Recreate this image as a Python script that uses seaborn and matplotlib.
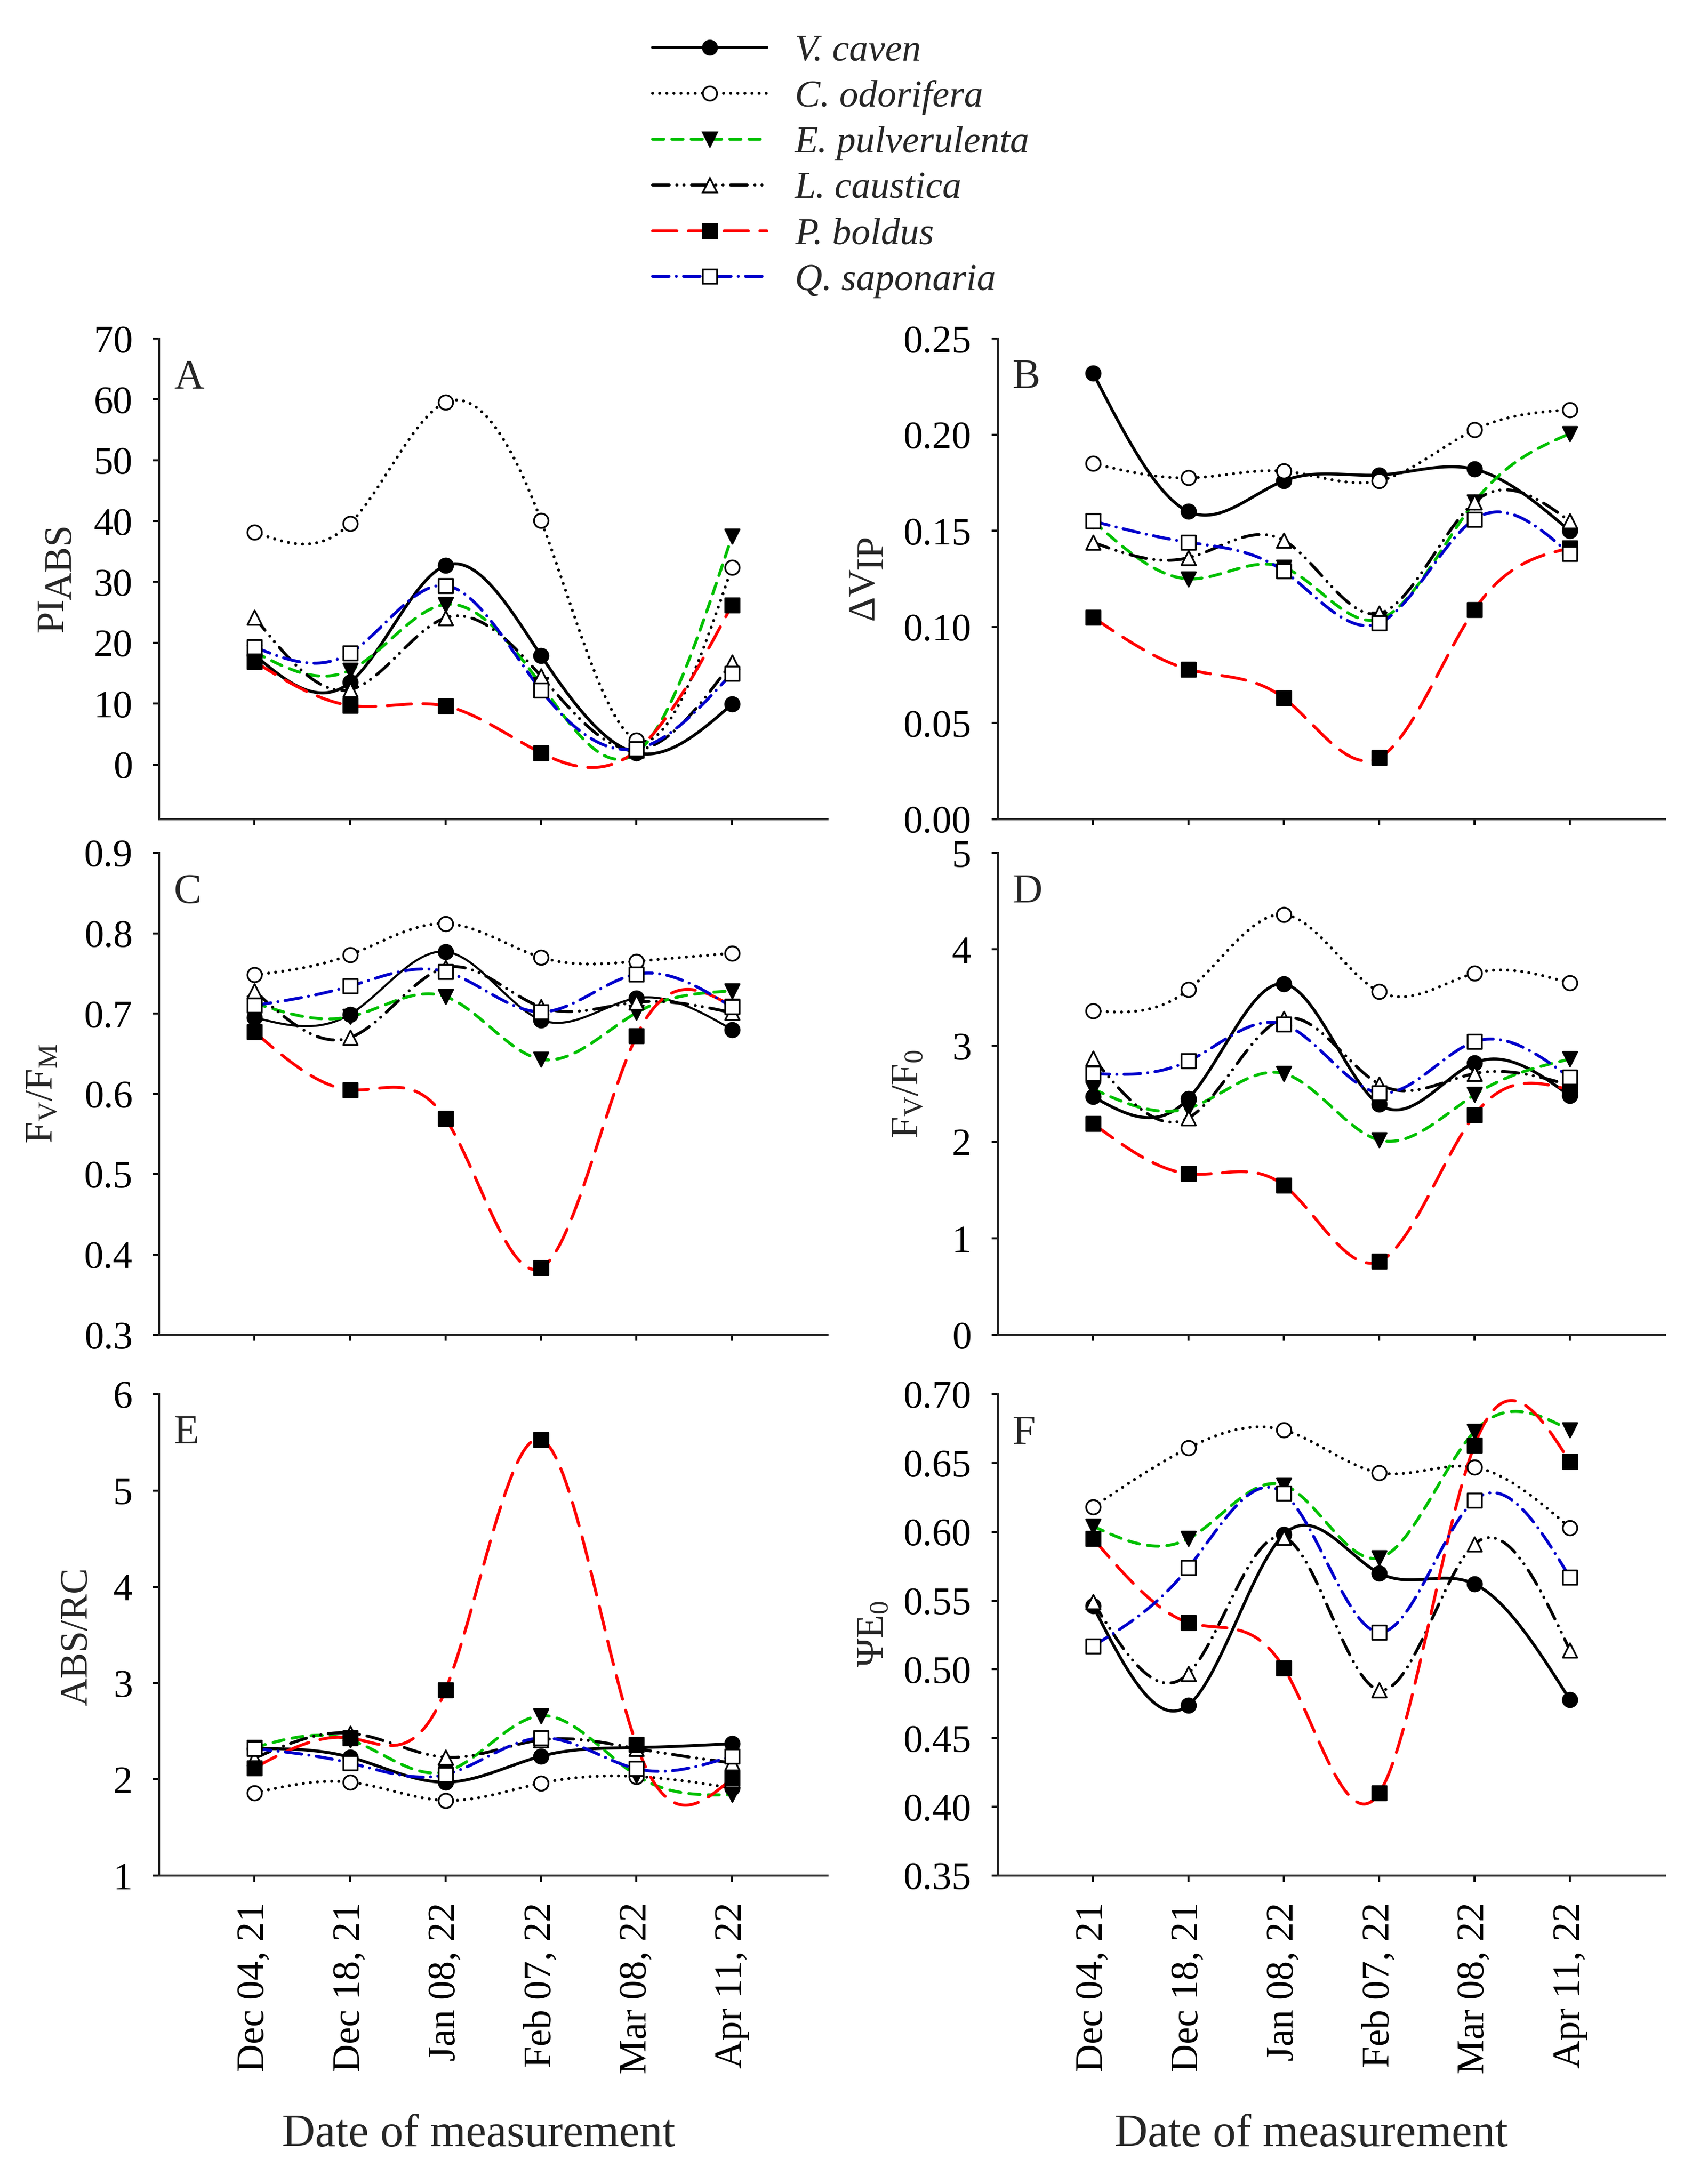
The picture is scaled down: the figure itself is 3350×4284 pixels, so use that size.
import numpy as np
import matplotlib
matplotlib.use("Agg")
import matplotlib.pyplot as plt
from matplotlib.lines import Line2D
import seaborn as sns

# fechas de medición y especies
dates = ["Dec 04, 21", "Dec 18, 21", "Jan 08, 22", "Feb 07, 22", "Mar 08, 22", "Apr 11, 22"]
species = ["V. caven", "C. odorifera", "E. pulverulenta", "L. caustica", "P. boldus", "Q. saponaria"]

# valores (filas en el orden de species)
pi_abs = [
    [18.0, 13.5, 32.7, 17.9, 1.9, 9.9],
    [38.2, 39.6, 59.5, 40.1, 4.0, 32.4],
    [18.5, 15.5, 26.3, 13.1, 1.9, 37.5],
    [24.2, 12.3, 24.1, 14.5, 2.4, 16.8],
    [16.9, 9.7, 9.6, 1.9, 2.3, 26.2],
    [19.3, 18.3, 29.4, 12.2, 2.6, 15.0],
]
dvip = [
    [0.232, 0.160, 0.176, 0.179, 0.182, 0.150],
    [0.185, 0.1775, 0.181, 0.176, 0.2025, 0.213],
    [0.155, 0.125, 0.131, 0.104, 0.165, 0.2005],
    [0.144, 0.136, 0.145, 0.107, 0.165, 0.155],
    [0.105, 0.078, 0.063, 0.032, 0.109, 0.141],
    [0.155, 0.144, 0.129, 0.102, 0.156, 0.138],
]
fv_fm = [
    [0.695, 0.699, 0.777, 0.692, 0.719, 0.680],
    [0.748, 0.773, 0.812, 0.770, 0.765, 0.775],
    [0.713, 0.696, 0.721, 0.643, 0.701, 0.728],
    [0.728, 0.670, 0.757, 0.708, 0.714, 0.701],
    [0.677, 0.605, 0.569, 0.383, 0.672, 0.709],
    [0.710, 0.734, 0.752, 0.702, 0.749, 0.708],
]
fv_f0 = [
    [2.47, 2.45, 3.64, 2.39, 2.82, 2.48],
    [3.36, 3.58, 4.36, 3.56, 3.75, 3.65],
    [2.55, 2.35, 2.71, 2.02, 2.49, 2.86],
    [2.87, 2.25, 3.28, 2.60, 2.71, 2.59],
    [2.19, 1.67, 1.55, 0.76, 2.28, 2.54],
    [2.71, 2.84, 3.22, 2.51, 3.04, 2.67],
]
abs_rc = [
    [2.32, 2.23, 1.97, 2.24, 2.33, 2.37],
    [1.86, 1.97, 1.78, 1.96, 2.03, 1.91],
    [2.33, 2.41, 2.08, 2.66, 2.04, 1.84],
    [2.22, 2.48, 2.23, 2.41, 2.32, 2.17],
    [2.12, 2.43, 2.93, 5.53, 2.36, 2.01],
    [2.32, 2.17, 2.05, 2.43, 2.11, 2.24],
]
psi_e0 = [
    [0.546, 0.474, 0.598, 0.570, 0.562, 0.478],
    [0.618, 0.661, 0.674, 0.643, 0.647, 0.603],
    [0.604, 0.595, 0.634, 0.581, 0.673, 0.674],
    [0.549, 0.497, 0.596, 0.485, 0.591, 0.514],
    [0.595, 0.534, 0.501, 0.410, 0.663, 0.651],
    [0.517, 0.574, 0.628, 0.527, 0.623, 0.567],
]

# estilo de cada especie: color, linea, marcador, relleno
colors = ["black", "black", "#00C000", "black", "#FF0000", "#0000CC"]
styles = [
    "-",
    (0, (0.01, 4.0)),
    (0, (6.3, 4.6)),
    (0, (9.4, 4.3, 0.01, 4.0, 0.01, 4.3)),
    (0, (13.7, 6.5)),
    (0, (9.3, 4.1, 0.01, 4.1)),
]
markers = ["o", "o", "v", "^", "s", "s"]
faces = ["black", "white", "black", "white", "black", "white"]

sns.set_style("ticks")
plt.rcParams["font.family"] = ["Liberation Serif", "DejaVu Serif"]
plt.rcParams["mathtext.fontset"] = "custom"
plt.rcParams["mathtext.rm"] = "Liberation Serif"
plt.rcParams["mathtext.it"] = "Liberation Serif:italic"
plt.rcParams["lines.scale_dashes"] = False


def spline(x, y, n=300):
    # spline cubico natural, solo para dibujar la curva suave
    x = np.asarray(x, float)
    y = np.asarray(y, float)
    k = len(x)
    h = np.diff(x)
    A = np.zeros((k, k))
    r = np.zeros(k)
    A[0, 0] = A[-1, -1] = 1
    for i in range(1, k - 1):
        A[i, i - 1] = h[i - 1]
        A[i, i] = 2 * (h[i - 1] + h[i])
        A[i, i + 1] = h[i]
        r[i] = 3 * ((y[i + 1] - y[i]) / h[i] - (y[i] - y[i - 1]) / h[i - 1])
    c = np.linalg.solve(A, r)
    b = (y[1:] - y[:-1]) / h - h * (2 * c[:-1] + c[1:]) / 3
    d = (c[1:] - c[:-1]) / (3 * h)
    xs = np.linspace(x[0], x[-1], n)
    idx = np.clip(np.searchsorted(x, xs) - 1, 0, k - 2)
    dx = xs - x[idx]
    ys = y[idx] + b[idx] * dx + c[idx] * dx ** 2 + d[idx] * dx ** 3
    return xs, ys


W, H = 3350, 4284
fig = plt.figure(figsize=(W / 250, H / 250), dpi=250)


def box(left, top, width, height):
    return [left / W, 1 - (top + height) / H, width / W, height / H]


panels = [
    ("A", pi_abs, box(312, 664, 1311, 943), (-9, 70), np.arange(0, 71, 10), "{:.0f}"),
    ("B", dvip, box(1957, 664, 1309, 943), (0, 0.25), np.arange(0, 0.251, 0.05), "{:.2f}"),
    ("C", fv_fm, box(312, 1673, 1311, 945), (0.3, 0.9), np.arange(0.3, 0.91, 0.1), "{:.1f}"),
    ("D", fv_f0, box(1957, 1673, 1309, 945), (0, 5), np.arange(0, 6, 1), "{:.0f}"),
    ("E", abs_rc, box(312, 2735, 1311, 944), (1, 6), np.arange(1, 7, 1), "{:.0f}"),
    ("F", psi_e0, box(1957, 2735, 1309, 944), (0.35, 0.70), np.arange(0.35, 0.701, 0.05), "{:.2f}"),
]

x = np.arange(1, 7)
LW = 1.7
axes = {}
for letter, data, pos, ylim, yticks, fmt in panels:
    ax = fig.add_axes(pos)
    axes[letter] = ax
    for i in range(len(species)):
        xs, ys = spline(x, data[i])
        lw = 1.2 if (letter == "C" and i == 0) else LW
        sns.lineplot(x=xs, y=ys, ax=ax, color=colors[i], linestyle=styles[i], lw=lw,
                     dash_capstyle="round", solid_capstyle="round",
                     estimator=None, sort=False, legend=False, zorder=2)
    for i in range(len(species)):
        sns.scatterplot(x=x, y=data[i], ax=ax, marker=markers[i], s=66, color=faces[i],
                        edgecolor="black", linewidth=1.0, zorder=4, legend=False)
    ax.set_xlim(0, 7)
    ax.set_ylim(*ylim)
    ax.set_xticks(x)
    ax.set_yticks(yticks)
    ax.set_yticklabels([fmt.format(v) for v in yticks])
    sns.despine(ax=ax)
    for s in ["left", "bottom"]:
        ax.spines[s].set_linewidth(1.15)
    ax.tick_params(axis="both", direction="out", length=3.5, width=1.15, pad=11.5,
                   labelsize=22, colors="black")
    ax.set_xlabel("")
    ax.set_ylabel("")
    ax.text(0.022, 0.897, letter, transform=ax.transAxes, fontsize=23.5,
            ha="left", va="baseline")
    if letter in ("E", "F"):
        ax.set_xticklabels(dates, rotation=90)
    else:
        ax.set_xticklabels([])

# etiquetas de los ejes y
kw = dict(rotation=90, rotation_mode="anchor", ha="left", va="baseline", fontsize=22)
axes["A"].text(-0.1442, 0.389, "PI", transform=axes["A"].transAxes, **kw)
axes["A"].text(-0.132, 0.456, "ABS", transform=axes["A"].transAxes, **kw)
axes["B"].text(-0.1864, 0.4136, "ΔV", transform=axes["B"].transAxes, **kw)
axes["B"].text(-0.1734, 0.5196, "IP", transform=axes["B"].transAxes, **kw)

ylabels = {
    "C": (r"F$_\mathrm{V}$/F$_\mathrm{M}$", -0.174, 0.50),
    "D": (r"F$_\mathrm{V}$/F$_\mathrm{0}$", -0.134, 0.50),
    "E": ("ABS/RC", -0.122, 0.497),
    "F": (r"ΨE$_\mathrm{0}$", -0.186, 0.502),
}
for k, (txt, lx, ly) in ylabels.items():
    axes[k].set_ylabel(txt, fontsize=22, va="center")
    axes[k].yaxis.set_label_coords(lx, ly)

axes["E"].set_xlabel("Date of measurement", fontsize=26)
axes["E"].xaxis.set_label_coords(0.478, -0.495)
axes["F"].set_xlabel("Date of measurement", fontsize=26)
axes["F"].xaxis.set_label_coords(0.470, -0.495)

# leyenda arriba
handles = [Line2D([], [], color=colors[i], linestyle=styles[i], lw=LW,
                  dash_capstyle="round", marker=markers[i], markersize=8,
                  markerfacecolor=faces[i], markeredgecolor="black", markeredgewidth=1.0)
           for i in range(len(species))]
fig.legend(handles, species, loc="upper left", bbox_to_anchor=(1280 / W, 0.9844),
           frameon=False, borderpad=0, borderaxespad=0, handlelength=3.0,
           handletextpad=0.74, labelspacing=0.29,
           prop={"family": "Liberation Serif", "style": "italic", "size": 21.5})

fig.savefig("out.png", dpi=250, facecolor="white")
